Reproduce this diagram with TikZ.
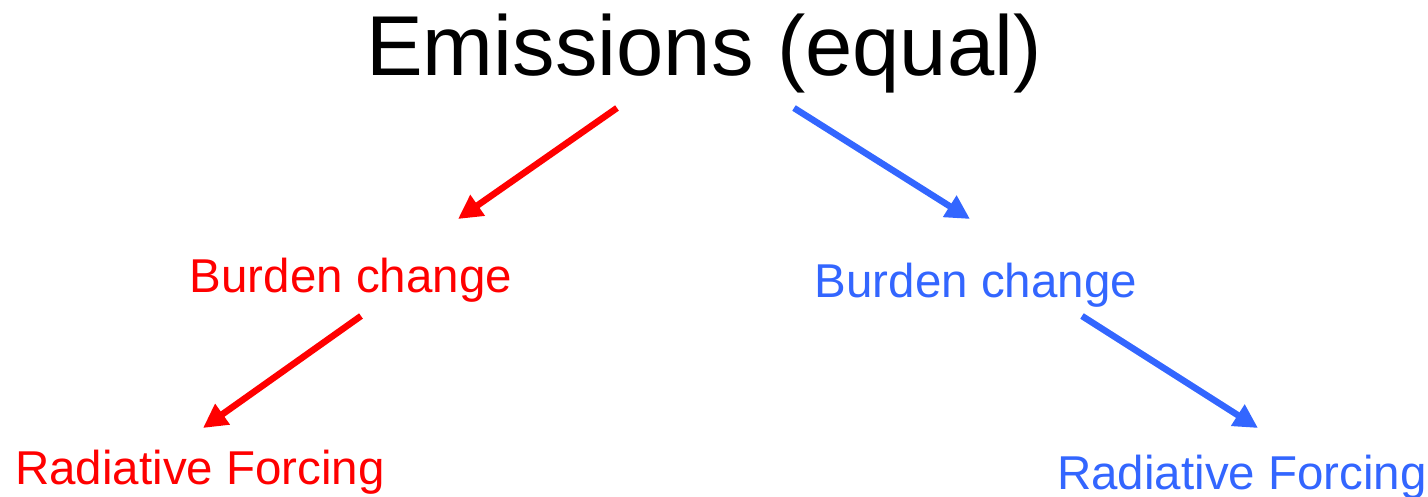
\documentclass[tikz,border=0pt]{standalone}
\usepackage{fontspec}
\setmainfont{Liberation Sans}
\usetikzlibrary{arrows.meta}
\definecolor{redc}{RGB}{255,0,0}
\definecolor{bluec}{RGB}{51,102,255}
\begin{document}
\begin{tikzpicture}[x=1pt,y=-1pt,line join=round,
		>={Triangle[length=24pt,width=24pt]},
		lbl/.style={inner sep=0pt,anchor=base,font=\fontsize{47.5}{57}\selectfont},
		arr/.style={->,line width=6.5pt}]
	\useasboundingbox (0,0) rectangle (1428,496);
	
	\node[inner sep=0pt,anchor=base,font=\fontsize{85}{100}\selectfont] (emis) at (704,75) {Emissions (equal)};
	\node[lbl,text=redc] (burdL) at (351,292) {Burden change};
	\node[lbl,text=bluec] (burdR) at (976,297) {Burden change};
	\node[lbl,text=redc,anchor=base west] (rfL) at (15,484) {Radiative Forcing};
	\node[lbl,text=bluec,anchor=base west] (rfR) at (1057,489) {Radiative Forcing};
	
	% arrow ends
	\coordinate (eL) at (617,108);  \coordinate (bLt) at (458,219);
	\coordinate (eR) at (794,108);  \coordinate (bRt) at (970,219);
	\coordinate (bLs) at (361,316); \coordinate (rLt) at (203,428);
	\coordinate (bRs) at (1082,316); \coordinate (rRt) at (1258,428);
	
	\draw[arr,redc] (eL) -- (bLt);
	\draw[arr,bluec] (eR) -- (bRt);
	\draw[arr,redc] (bLs) -- (rLt);
	\draw[arr,bluec] (bRs) -- (rRt);
\end{tikzpicture}
\end{document}
